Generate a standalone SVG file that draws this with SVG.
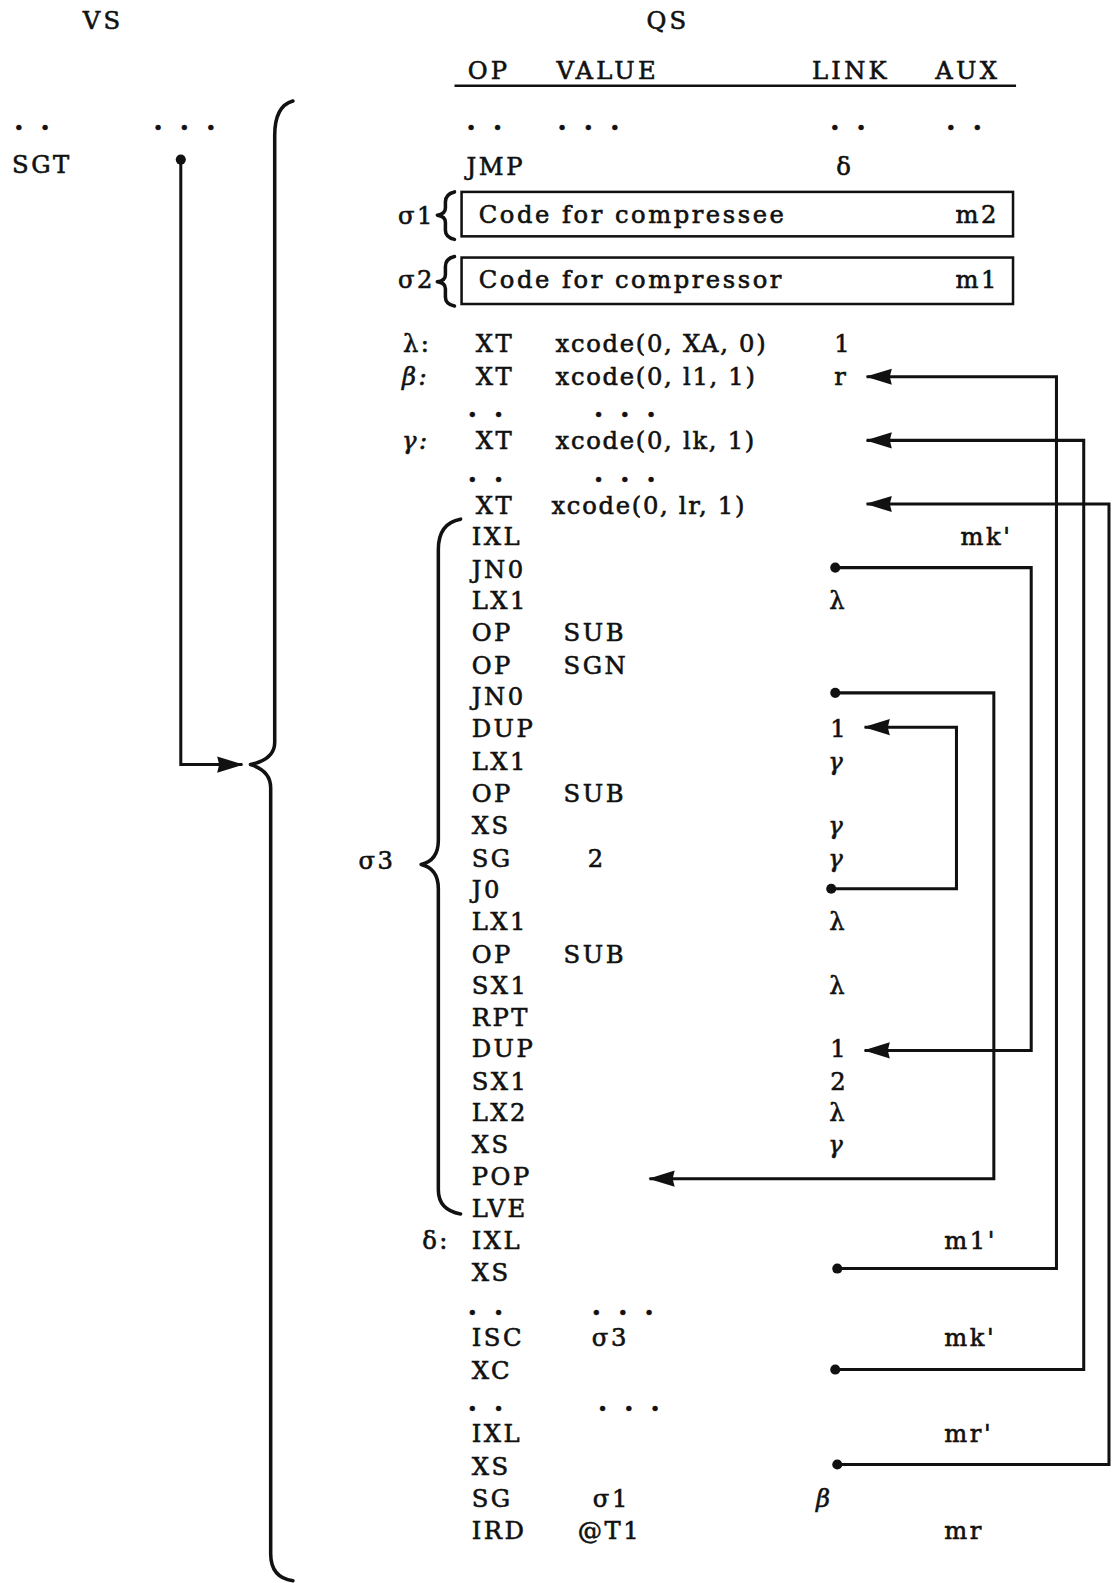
<svg xmlns="http://www.w3.org/2000/svg" width="1117" height="1583" viewBox="0 0 1117 1583">
<style>
text{font-family:"DejaVu Serif","Liberation Serif",serif;font-size:24px;fill:#111;stroke:#111;stroke-width:0.6px;letter-spacing:2.5px}
.hd{letter-spacing:3.2px}
.bx{letter-spacing:2.5px}
.xc{letter-spacing:1.7px}
.dt{font-size:26px;font-weight:bold;letter-spacing:4px}
.it{font-style:italic}
.ln{fill:none;stroke:#111;stroke-width:3}
.br{fill:none;stroke:#111;stroke-width:3.5;stroke-linecap:round;stroke-linejoin:round}
.dot{fill:#111}
</style>
<defs>
<marker id="ah" viewBox="0 0 26 18" refX="25" refY="9" markerWidth="26" markerHeight="18" markerUnits="userSpaceOnUse" orient="auto">
<path d="M0,1 L26,9 L0,17 L2,9 z" fill="#111"/>
</marker>
</defs>
<g transform="scale(1.01)">
<g id="headers">
<text class="hd" x="82" y="29">VS</text>
<text class="hd" x="640" y="29">QS</text>
<text class="hd" x="463" y="78">OP</text>
<text class="hd" x="551" y="78">VALUE</text>
<text class="hd" x="804" y="78">LINK</text>
<text class="hd" x="926" y="78">AUX</text>
<line x1="450" y1="85" x2="1006" y2="85" stroke="#111" stroke-width="2.5"/>
</g>

<g id="vs-column">
<text class="dt" x="14" y="129">. .</text>
<text class="dt" x="152" y="129">. . .</text>
<text x="12" y="171">SGT</text>
</g>

<g id="qs-top">
<text class="dt" x="462" y="129">. .</text>
<text class="dt" x="552" y="129">. . .</text>
<text class="dt" x="822" y="129">. .</text>
<text class="dt" x="937" y="129">. .</text>
<text x="462" y="173">JMP</text>
<text x="828" y="173">δ</text>
</g>

<g id="sigma1">
<text x="394" y="222">σ1</text>
<path class="br" d="M450,190 Q441,192 441,200 L441,206 Q441,212 433,213 Q441,214 441,220 L441,228 Q441,235 450,237"/>
<rect x="457" y="190" width="546" height="44" fill="none" stroke="#111" stroke-width="2.5"/>
<text class="bx" x="474" y="221">Code for compressee</text>
<text x="946" y="221">m2</text>
</g>

<g id="sigma2">
<text x="394" y="285">σ2</text>
<path class="br" d="M450,254 Q441,256 441,264 L441,272 Q441,278 433,279 Q441,280 441,286 L441,294 Q441,301 450,303"/>
<rect x="457" y="255" width="546" height="46" fill="none" stroke="#111" stroke-width="2.5"/>
<text class="bx" x="474" y="285">Code for compressor</text>
<text x="946" y="285">m1</text>
</g>

<g id="xt-rows">
<text x="399" y="349">λ:</text><text x="471" y="349">XT</text><text class="xc" x="550" y="349">xcode(0, XA, 0)</text><text x="826" y="349">1</text>
<text class="it" x="398" y="381">β:</text><text x="471" y="381">XT</text><text class="xc" x="550" y="381">xcode(0, l1, 1)</text><text x="826" y="381">r</text>
<text class="dt" x="463" y="413">. .</text><text class="dt" x="588" y="413">. . .</text>
<text class="it" x="398" y="445">γ:</text><text x="471" y="445">XT</text><text class="xc" x="550" y="445">xcode(0, lk, 1)</text>
<text class="dt" x="463" y="477">. .</text><text class="dt" x="588" y="477">. . .</text>
<text x="471" y="509">XT</text><text class="xc" x="546" y="509">xcode(0, lr, 1)</text>
</g>

<g id="sigma3">
<text x="355" y="860">σ3</text>
<path class="br" d="M456,514 Q434,518 434,544 L434,832 Q434,852 417,856 Q434,860 434,880 L434,1178 Q434,1198 456,1202"/>
<text x="467" y="540">IXL</text><text x="951" y="540">mk'</text>
<text x="467" y="572">JN0</text>
<text x="467" y="603">LX1</text><text x="821" y="603">λ</text>
<text x="467" y="635">OP</text><text x="558" y="635">SUB</text>
<text x="467" y="667">OP</text><text x="558" y="667">SGN</text>
<text x="467" y="698">JN0</text>
<text x="467" y="730">DUP</text><text x="822" y="730">1</text>
<text x="467" y="762">LX1</text><text class="it" x="820" y="762">γ</text>
<text x="467" y="794">OP</text><text x="558" y="794">SUB</text>
<text x="467" y="826">XS</text><text class="it" x="820" y="826">γ</text>
<text x="467" y="858">SG</text><text x="582" y="858">2</text><text class="it" x="820" y="858">γ</text>
<text x="467" y="889">J0</text>
<text x="467" y="921">LX1</text><text x="821" y="921">λ</text>
<text x="467" y="953">OP</text><text x="558" y="953">SUB</text>
<text x="467" y="984">SX1</text><text x="821" y="984">λ</text>
<text x="467" y="1016">RPT</text>
<text x="467" y="1047">DUP</text><text x="822" y="1047">1</text>
<text x="467" y="1079">SX1</text><text x="822" y="1079">2</text>
<text x="467" y="1110">LX2</text><text x="821" y="1110">λ</text>
<text x="467" y="1142">XS</text><text class="it" x="820" y="1142">γ</text>
<text x="467" y="1173">POP</text>
<text x="467" y="1205">LVE</text>
</g>

<g id="tail-rows">
<text x="418" y="1237">δ:</text><text x="467" y="1237">IXL</text><text x="935" y="1237">m1'</text>
<text x="467" y="1268">XS</text>
<text class="dt" x="463" y="1302">. .</text><text class="dt" x="586" y="1302">. . .</text>
<text x="467" y="1333">ISC</text><text x="586" y="1333">σ3</text><text x="935" y="1333">mk'</text>
<text x="467" y="1365">XC</text>
<text class="dt" x="463" y="1397">. .</text><text class="dt" x="592" y="1397">. . .</text>
<text x="467" y="1428">IXL</text><text x="935" y="1428">mr'</text>
<text x="467" y="1460">XS</text>
<text x="467" y="1492">SG</text><text x="587" y="1492">σ1</text><text class="it" x="808" y="1492">β</text>
<text x="467" y="1524">IRD</text><text x="572" y="1524">@T1</text><text x="935" y="1524">mr</text>
</g>

<g id="main-brace">
<path class="br" d="M290,100 Q272,105 272,134 L272,735 Q272,752 248,757 Q268,763 268,780 L268,1538 Q268,1562 290,1565"/>
</g>

<g id="connectors">
<circle class="dot" cx="179" cy="158" r="5"/>
<path class="ln" d="M179,158 V757 H240" marker-end="url(#ah)"/>

<circle class="dot" cx="827" cy="562" r="5"/>
<path class="ln" d="M827,562 H1021 V1040 H856" marker-end="url(#ah)"/>

<circle class="dot" cx="827" cy="686" r="5"/>
<path class="ln" d="M827,686 H984 V1167 H643" marker-end="url(#ah)"/>

<circle class="dot" cx="823" cy="880" r="5"/>
<path class="ln" d="M823,880 H947 V720 H856" marker-end="url(#ah)"/>

<circle class="dot" cx="829" cy="1256" r="5"/>
<path class="ln" d="M829,1256 H1046 V373 H858" marker-end="url(#ah)"/>

<circle class="dot" cx="827" cy="1356" r="5"/>
<path class="ln" d="M827,1356 H1073 V436 H858" marker-end="url(#ah)"/>

<circle class="dot" cx="829" cy="1450" r="5"/>
<path class="ln" d="M829,1450 H1098 V499 H858" marker-end="url(#ah)"/>
</g>
</g>
</svg>
